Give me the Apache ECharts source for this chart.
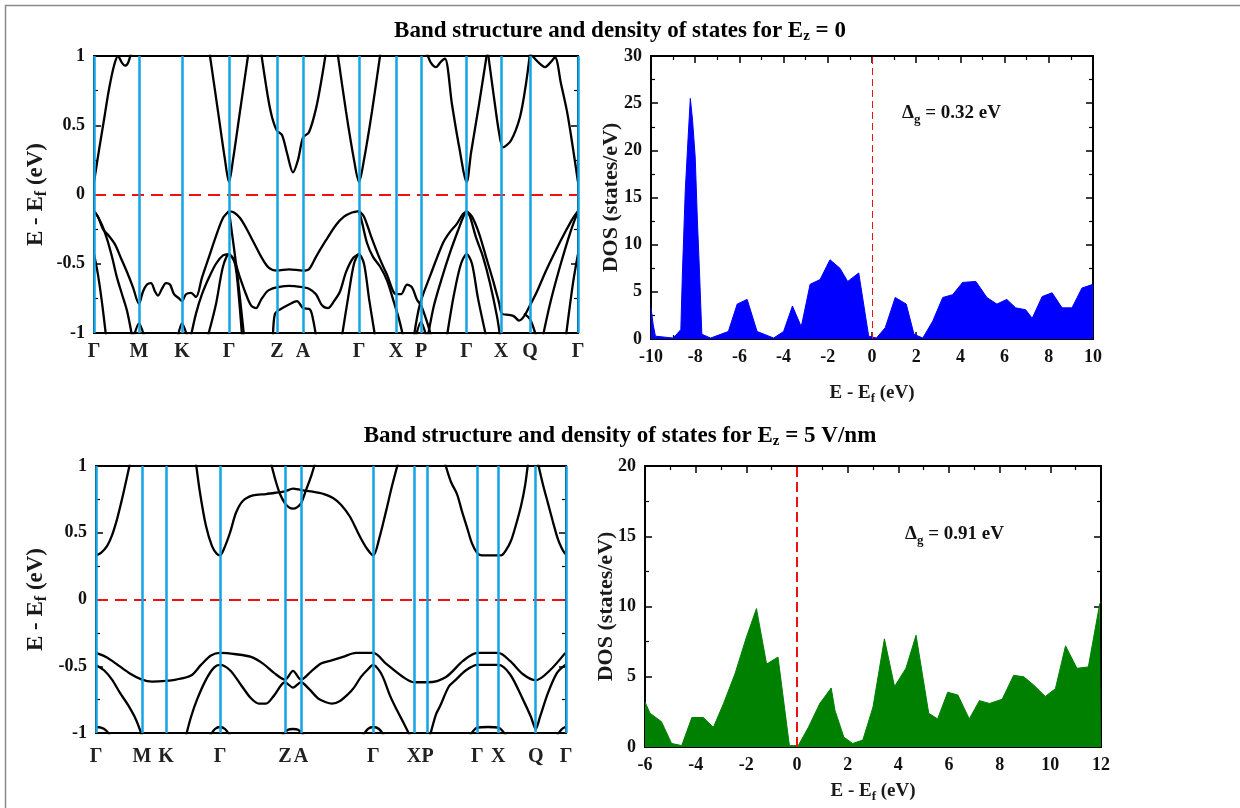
<!DOCTYPE html>
<html>
<head>
<meta charset="utf-8">
<script src="https://cdn.jsdelivr.net/npm/echarts@6/dist/echarts.min.js"></script>
<style>
  html, body { margin: 0; padding: 0; background: #fff; }
  #chart { width: 1240px; height: 808px; }
</style>
</head>
<body>
<div id="chart"></div>
<script>
// high-symmetry path labels and their k positions along each path
const kLabels = ['Γ', 'M', 'K', 'Γ', 'Z', 'A', 'Γ', 'X', 'P', 'Γ', 'X', 'Q', 'Γ'];
const kPathTop = [0, 45, 88, 135, 183, 209, 265, 302, 327, 372.7, 407, 436, 484];
const kPathBottom = [0, 46, 70, 124, 189, 205, 277.3, 318, 331.7, 381.3, 402.3, 439.7, 470];

// Ez = 0 bands, [k, E - Ef]
const topConductionBands = [
  [[0, 0.09], [5, 0.32], [10, 0.54], [15, 0.76], [20, 0.93], [24, 1.0], [28, 0.95], [31, 0.93], [34, 0.95], [37, 1.02]],
  [[115, 1.05], [124, 0.6], [131, 0.25], [135, 0.09], [139, 0.25], [146, 0.6], [155, 1.05]],
  [[167, 1.03], [174, 0.7], [178, 0.56], [183, 0.46], [188, 0.43], [193, 0.3], [199, 0.16], [204, 0.25], [209, 0.41], [215, 0.45], [222, 0.62], [228, 0.85], [232, 1.03]],
  [[243, 1.05], [252, 0.6], [260, 0.25], [265, 0.09], [270, 0.25], [278, 0.6], [287, 1.05]],
  [[333, 1.02], [337, 0.95], [342, 0.92], [347, 0.96], [351, 0.98], [358, 0.65], [365, 0.35], [372.7, 0.09], [377, 0.3], [385, 0.65], [393, 1.02]],
  [[394, 1.02], [400, 0.7], [405, 0.45], [409, 0.34], [417, 0.39], [426, 0.56], [432, 0.8], [436, 1.02]],
  [[436, 1.02], [445, 0.95], [451, 0.92], [456, 0.95], [461, 0.99], [467, 0.8], [473, 0.6], [478, 0.38], [484, 0.09]]
];
const topValenceBands = [
  [[0, -0.12], [4, -0.16], [9, -0.25], [15, -0.3], [21, -0.36], [27, -0.46], [33, -0.56], [39, -0.67], [45, -0.79], [49, -0.7], [53, -0.65], [57, -0.64], [61, -0.7], [64, -0.73], [68, -0.68], [72, -0.64], [76, -0.65], [80, -0.72], [85, -0.75], [88, -0.77], [92, -0.72], [97, -0.71], [102, -0.74], [108, -0.6], [115, -0.45], [122, -0.3], [129, -0.17], [135, -0.12]],
  [[0, -0.12], [3, -0.15], [8, -0.22], [13, -0.32], [18, -0.45], [23, -0.6], [28, -0.72], [33, -0.84], [38, -1.02]],
  [[0, -0.43], [4, -0.58], [8, -0.78], [12, -1.02]],
  [[40, -1.02], [45, -0.93], [50, -1.02]],
  [[84, -1.02], [88, -0.93], [93, -1.02]],
  [[97, -1.02], [102, -0.86], [108, -0.72], [115, -0.6], [122, -0.5], [129, -0.44], [135, -0.43]],
  [[114, -1.02], [122, -0.79], [129, -0.52], [135, -0.43], [141, -0.5], [145, -0.75], [148, -1.02]],
  [[135, -0.12], [138, -0.28], [142, -0.5], [146, -0.75], [150, -1.02]],
  [[135, -0.12], [140, -0.13], [146, -0.17], [152, -0.24], [160, -0.35], [168, -0.46], [175, -0.53], [183, -0.55], [195, -0.54], [209, -0.55], [215, -0.54], [222, -0.45], [232, -0.33], [242, -0.22], [250, -0.16], [258, -0.13], [265, -0.12]],
  [[135, -0.43], [140, -0.47], [146, -0.6], [152, -0.72], [157, -0.8], [162, -0.82], [167, -0.76], [173, -0.7], [178, -0.68], [183, -0.67], [195, -0.66], [209, -0.67], [215, -0.68], [222, -0.72], [228, -0.8], [234, -0.82], [240, -0.77], [246, -0.7], [252, -0.56], [259, -0.46], [265, -0.43]],
  [[179, -1.02], [181, -0.86], [186, -0.83], [196, -0.79], [203, -0.77], [209, -0.82], [216, -0.83], [219, -0.9], [222, -1.02]],
  [[248, -1.02], [254, -0.75], [260, -0.5], [265, -0.43], [270, -0.5], [275, -0.75], [281, -1.02]],
  [[265, -0.12], [270, -0.16], [277, -0.3], [285, -0.45], [293, -0.58], [302, -0.72], [307, -0.72], [313, -0.65], [318, -0.67], [323, -0.76], [327, -0.8], [333, -0.92], [337, -1.02]],
  [[265, -0.12], [268, -0.2], [273, -0.35], [279, -0.45], [286, -0.52], [293, -0.62], [300, -0.78], [305, -0.9], [309, -1.02]],
  [[322, -1.02], [327, -0.92], [332, -1.02]],
  [[320, -1.02], [326, -0.79], [336, -0.59], [349, -0.35], [356, -0.27], [363, -0.21], [369, -0.14], [372.7, -0.12]],
  [[334, -1.02], [340, -0.8], [348, -0.6], [356, -0.42], [364, -0.26], [370, -0.15], [372.7, -0.12]],
  [[353, -1.02], [360, -0.72], [367, -0.5], [372.7, -0.43], [378, -0.5], [384, -0.75], [392, -1.02]],
  [[372.7, -0.12], [376, -0.16], [382, -0.31], [389, -0.45], [396, -0.64], [403, -0.88], [406, -1.02]],
  [[372.7, -0.12], [378, -0.16], [385, -0.28], [392, -0.45], [399, -0.62], [405, -0.78], [408, -0.86], [415, -0.87], [420, -0.88], [425, -0.91], [430, -0.88], [436, -0.8], [443, -0.7], [452, -0.55], [462, -0.4], [472, -0.26], [479, -0.17], [484, -0.12]],
  [[430, -0.86], [436, -0.9], [442, -1.02]],
  [[449, -1.02], [456, -0.79], [466, -0.52], [476, -0.28], [484, -0.12]],
  [[472, -1.02], [479, -0.64], [484, -0.43]]
];

// Ez = 5 V/nm bands, [k, E - Ef]
const botConductionBands = [
  [[0, 0.33], [5, 0.35], [11, 0.4], [16, 0.48], [21, 0.6], [25, 0.72], [29, 0.85], [34, 1.02]],
  [[100, 1.02], [104, 0.8], [110, 0.55], [116, 0.4], [121, 0.34], [124, 0.33], [128, 0.38], [134, 0.5], [140, 0.65], [147, 0.74], [157, 0.78], [170, 0.79], [180, 0.8], [189, 0.81], [197, 0.83], [205, 0.82], [215, 0.81], [228, 0.79], [237, 0.76], [245, 0.71], [254, 0.62], [264, 0.47], [271, 0.38], [277.3, 0.33], [283, 0.45], [290, 0.66], [296, 0.85], [302, 1.02]],
  [[175, 1.02], [180, 0.88], [184, 0.79], [189, 0.72], [193, 0.69], [197, 0.68], [201, 0.69], [205, 0.72], [210, 0.82], [215, 0.92], [219, 1.02]],
  [[349, 1.02], [355, 0.88], [361, 0.79], [366, 0.66], [371, 0.54], [376, 0.42], [381, 0.35], [386, 0.33], [395, 0.33], [405, 0.33], [410, 0.37], [415, 0.44], [420, 0.56], [425, 0.7], [429, 0.85], [432, 1.02]],
  [[442, 1.02], [447, 0.86], [452, 0.72], [457, 0.58], [462, 0.45], [466, 0.38], [469.3, 0.34]]
];
const botValenceBands = [
  [[0, -0.4], [10, -0.43], [20, -0.48], [33, -0.55], [46, -0.6], [56, -0.615], [70, -0.61], [80, -0.6], [95, -0.57], [105, -0.49], [115, -0.42], [124, -0.4], [140, -0.41], [155, -0.43], [167, -0.48], [178, -0.55], [189, -0.6], [197, -0.535], [205, -0.6], [215, -0.54], [225, -0.48], [234, -0.46], [247, -0.43], [260, -0.4], [277.3, -0.4], [290, -0.48], [307, -0.58], [318, -0.62], [332, -0.62], [350, -0.58], [367, -0.46], [381.3, -0.4], [402.3, -0.4], [414, -0.46], [427, -0.56], [439.7, -0.605], [454, -0.53], [469.3, -0.4]],
  [[0, -0.49], [8, -0.53], [16, -0.6], [24, -0.7], [32, -0.79], [40, -0.9], [46, -1.02]],
  [[90, -1.02], [95, -0.88], [101, -0.75], [110, -0.6], [118, -0.51], [124, -0.49], [134, -0.53], [145, -0.64], [155, -0.74], [163, -0.78], [170, -0.78], [178, -0.72], [189, -0.62], [197, -0.66], [205, -0.62], [213, -0.67], [222, -0.74], [230, -0.77], [236, -0.78], [244, -0.76], [252, -0.71], [258, -0.66], [265, -0.58], [271, -0.53], [277.3, -0.49], [284, -0.54], [288, -0.6], [294, -0.72], [301, -0.83], [308, -0.93], [314, -1.02]],
  [[334, -1.02], [340, -0.86], [344, -0.8], [353, -0.65], [360, -0.6], [370, -0.53], [381.3, -0.49], [392, -0.49], [402.3, -0.49], [414, -0.56], [427, -0.75], [435, -0.88], [439.7, -0.97], [444, -0.88], [452, -0.7], [461, -0.55], [469.3, -0.49]],
  [[0, -0.955], [5, -0.96], [10, -0.98], [14, -1.02]],
  [[114, -1.02], [119, -0.97], [124, -0.955], [129, -0.97], [134, -1.02]],
  [[186, -1.02], [192, -0.975], [197, -0.97], [202, -0.975], [208, -1.02]],
  [[267, -1.02], [272, -0.97], [277.3, -0.955], [283, -0.97], [288, -1.02]],
  [[374, -1.02], [381.3, -0.96], [392, -0.955], [402.3, -0.96], [410, -1.02]],
  [[461, -1.02], [466, -0.97], [469.3, -0.955]]
];

// density of states, Ez = 0
const dosZeroE = [-10, -9.9, -9.8, -9, -8.8, -8.65, -8.58, -8.45, -8.32, -8.22, -8.12, -8.0, -7.9, -7.8, -7.7, -7.3, -6.5, -6.1, -5.65, -5.2, -4.45, -4.0, -3.6, -3.2, -2.8, -2.35, -1.9, -1.45, -1.1, -0.6, -0.15, 0.2, 0.6, 1.05, 1.55, 1.9, 2.3, 2.75, 3.2, 3.65, 4.1, 4.7, 5.2, 5.65, 6.1, 6.5, 6.95, 7.25, 7.7, 8.15, 8.6, 9.05, 9.5, 10];
const dosZeroV = [3.3, 1.5, 0.3, 0.1, 0.6, 1.0, 6.9, 15.7, 21.4, 25.5, 23.2, 19.3, 12.5, 6.8, 0.5, 0.1, 0.8, 3.7, 4.2, 0.8, 0.1, 0.8, 3.5, 1.3, 5.8, 6.3, 8.4, 7.5, 6.1, 7.0, 0.3, 0.1, 1.2, 4.4, 3.7, 0.5, 0.1, 1.9, 4.4, 4.7, 6.0, 6.1, 4.4, 3.7, 4.2, 3.3, 3.1, 2.2, 4.5, 4.9, 3.3, 3.3, 5.4, 5.8];

// density of states, Ez = 5 V/nm
const dosFieldE = [-6, -5.8, -5.35, -4.95, -4.55, -4.15, -3.7, -3.3, -2.9, -2.45, -2.0, -1.6, -1.2, -0.75, -0.3, 0.05, 0.45, 0.9, 1.35, 1.5, 1.85, 2.2, 2.6, 3.0, 3.45, 3.85, 4.3, 4.7, 5.2, 5.55, 5.95, 6.35, 6.8, 7.2, 7.6, 8.1, 8.55, 8.95, 9.35, 9.8, 10.2, 10.6, 11.05, 11.5, 11.95, 12];
const dosFieldV = [3.2, 2.4, 1.8, 0.25, 0.1, 2.1, 2.1, 1.4, 3.1, 5.2, 7.8, 9.85, 5.9, 6.4, 0.1, 0.1, 1.4, 3.1, 4.2, 2.6, 0.7, 0.25, 0.5, 2.85, 7.7, 4.3, 5.6, 7.95, 2.4, 2.0, 3.9, 3.7, 2.0, 3.3, 3.1, 3.4, 5.1, 5.0, 4.4, 3.6, 4.15, 7.2, 5.6, 5.7, 10.2, 10.3];

const serif = "'Liberation Serif', 'DejaVu Serif', serif";
const blueLine = '#12a5e3';

const chart = echarts.init(document.getElementById('chart'));

function richName(a, sub, b, size) {
  return {
    text: '{n|' + a + '}{s|' + sub + '}{n|' + b + '}',
    rich: {
      n: { fontFamily: serif, fontWeight: 'bold', fontSize: size, color: '#1a1a1a', lineHeight: size + 4, verticalAlign: 'middle' },
      s: { fontFamily: serif, fontWeight: 'bold', fontSize: Math.round(size * 0.68), color: '#1a1a1a', lineHeight: size + 4, verticalAlign: 'bottom' }
    }
  };
}

const bandName = richName('E - E', 'f', ' (eV)', 23);
const dosName = richName('E - E', 'f', ' (eV)', 19);

function bandXAxis(grid, path, max, margin) {
  return {
    type: 'value', gridIndex: grid, min: 0, max: max,
    axisLine: { show: false, onZero: false },
    axisTick: { show: false },
    splitLine: { show: false },
    axisLabel: {
      customValues: path,
      formatter: v => kLabels[path.indexOf(v)],
      fontFamily: serif, fontWeight: 'bold', fontSize: 20, color: '#222', margin: margin
    }
  };
}

function frameYAxis(grid, min, max, interval, pos, labels, extra) {
  return Object.assign({
    type: 'value', gridIndex: grid, min: min, max: max, interval: interval, position: pos,
    nameMoveOverlap: false,
    axisLine: { show: false, onZero: false },
    axisTick: { show: true, inside: true, length: 7, lineStyle: { color: '#000', width: 1.5 } },
    minorTick: { show: true, splitNumber: 2, length: 4, lineStyle: { color: '#000', width: 1.2 } },
    splitLine: { show: false },
    axisLabel: { show: labels, fontFamily: serif, fontWeight: 'bold', fontSize: 18, color: '#111', margin: 9 }
  }, extra || {});
}

function dosXAxis(grid, min, max, pos, labels, extra) {
  return Object.assign({
    type: 'value', gridIndex: grid, min: min, max: max, interval: 2, position: pos,
    axisLine: { show: false, onZero: false },
    axisTick: { show: true, inside: true, length: 7, lineStyle: { color: '#000', width: 1.5 } },
    minorTick: { show: true, splitNumber: 2, length: 4, lineStyle: { color: '#000', width: 1.2 } },
    splitLine: { show: false },
    axisLabel: { show: labels, fontFamily: serif, fontWeight: 'bold', fontSize: 18, color: '#111', margin: 9 }
  }, extra || {});
}

function bandSeries(bands, axis) {
  return bands.map(b => ({
    type: 'line', xAxisIndex: axis, yAxisIndex: axis, data: b,
    showSymbol: false, smooth: 0.3, silent: true, z: 3,
    lineStyle: { color: '#000', width: 2.3 }
  }));
}

function guideSeries(axis, path) {
  return [{
    type: 'line', xAxisIndex: axis, yAxisIndex: axis, data: [], z: 4, silent: true,
    markLine: {
      symbol: 'none', silent: true, label: { show: false },
      lineStyle: { color: '#f01010', width: 2, type: [12, 7] },
      data: [{ yAxis: 0 }]
    }
  }, {
    type: 'line', xAxisIndex: axis, yAxisIndex: axis, data: [], z: 5, silent: true,
    markLine: {
      symbol: 'none', silent: true, label: { show: false },
      lineStyle: { color: blueLine, width: 2.5, type: 'solid' },
      data: path.map(k => ({ xAxis: k }))
    }
  }];
}

function dosSeries(axis, es, vs, color, dashWidth, dash) {
  return {
    type: 'line', xAxisIndex: axis, yAxisIndex: axis,
    data: es.map((e, i) => [e, vs[i]]),
    showSymbol: false, silent: true, z: 3,
    lineStyle: { color: color, width: 1 },
    areaStyle: { color: color, opacity: 1 },
    markLine: {
      symbol: 'none', silent: true, label: { show: false },
      lineStyle: { color: '#f01010', width: dashWidth, type: dash },
      data: [{ xAxis: 0 }]
    }
  };
}

function titleRich() {
  return { rich: {
    t: { fontFamily: serif, fontWeight: 'bold', fontSize: 23, color: '#000', lineHeight: 26, verticalAlign: 'middle' },
    s: { fontFamily: serif, fontWeight: 'bold', fontSize: 15, color: '#000', lineHeight: 26, verticalAlign: 'bottom' }
  } };
}

function deltaText(x, y, gap) {
  return { type: 'text', left: x, top: y, silent: true, style: { text: '{n|Δ}{s|g}{n| = ' + gap + '}', rich: {
    n: { fontFamily: serif, fontWeight: 'bold', fontSize: 19, fill: '#111', lineHeight: 26, verticalAlign: 'middle' },
    s: { fontFamily: serif, fontWeight: 'bold', fontSize: 13, fill: '#111', lineHeight: 26, verticalAlign: 'bottom' } } } };
}

const dosYName = { fontFamily: serif, fontWeight: 'bold', fontSize: 22, color: '#1a1a1a' };
const gridStyle = { show: true, borderColor: '#000', borderWidth: 2, backgroundColor: 'transparent' };

const option = {
  backgroundColor: '#fff',
  animation: false,
  title: [
    { left: 'center', top: 13, text: '{t|Band structure and density of states for E}{s|z}{t| = 0}', textStyle: titleRich() },
    { left: 'center', top: 418, text: '{t|Band structure and density of states for E}{s|z}{t| = 5 V/nm}', textStyle: titleRich() }
  ],
  grid: [
    Object.assign({ left: 94, top: 56, width: 484, height: 277 }, gridStyle),
    Object.assign({ left: 651, top: 56, width: 442, height: 283 }, gridStyle),
    Object.assign({ left: 96, top: 466, width: 470, height: 267 }, gridStyle),
    Object.assign({ left: 645, top: 466, width: 456, height: 281 }, gridStyle)
  ],
  xAxis: [
    bandXAxis(0, kPathTop, 484, 9),
    dosXAxis(1, -10, 10, 'bottom', true, { name: dosName.text, nameLocation: 'middle', nameGap: 43, nameTextStyle: { rich: dosName.rich } }),
    bandXAxis(2, kPathBottom, 470, 14),
    dosXAxis(3, -6, 12, 'bottom', true, { name: dosName.text, nameLocation: 'middle', nameGap: 33, nameTextStyle: { rich: dosName.rich } }),
    dosXAxis(1, -10, 10, 'top', false),
    dosXAxis(3, -6, 12, 'top', false)
  ],
  yAxis: [
    frameYAxis(0, -1, 1, 0.5, 'left', true, { name: bandName.text, nameLocation: 'middle', nameGap: 44, nameTextStyle: { rich: bandName.rich } }),
    frameYAxis(1, 0, 30, 5, 'left', true, { name: 'DOS (states/eV)', nameLocation: 'middle', nameGap: 29, nameTextStyle: dosYName }),
    frameYAxis(2, -1, 1, 0.5, 'left', true, { name: bandName.text, nameLocation: 'middle', nameGap: 46, nameTextStyle: { rich: bandName.rich } }),
    frameYAxis(3, 0, 20, 5, 'left', true, { name: 'DOS (states/eV)', nameLocation: 'middle', nameGap: 28, nameTextStyle: dosYName }),
    frameYAxis(0, -1, 1, 0.5, 'right', false),
    frameYAxis(1, 0, 30, 5, 'right', false),
    frameYAxis(2, -1, 1, 0.5, 'right', false),
    frameYAxis(3, 0, 20, 5, 'right', false)
  ],
  series: [].concat(
    bandSeries(topConductionBands, 0),
    bandSeries(topValenceBands, 0),
    guideSeries(0, kPathTop),
    [dosSeries(1, dosZeroE, dosZeroV, '#0000ff', 1, [7, 4])],
    bandSeries(botConductionBands, 2),
    bandSeries(botValenceBands, 2),
    guideSeries(2, kPathBottom),
    [dosSeries(3, dosFieldE, dosFieldV, '#008000', 2, [10, 5])]
  ),
  graphic: [
    { type: 'rect', left: 3, top: 3, shape: { width: 1260, height: 830 }, style: { fill: 'none', stroke: '#8a8a8a', lineWidth: 1.5 }, silent: true },
    deltaText(902, 104, '0.32 eV'),
    deltaText(905, 525, '0.91 eV')
  ]
};

chart.setOption(option);
</script>
</body>
</html>
